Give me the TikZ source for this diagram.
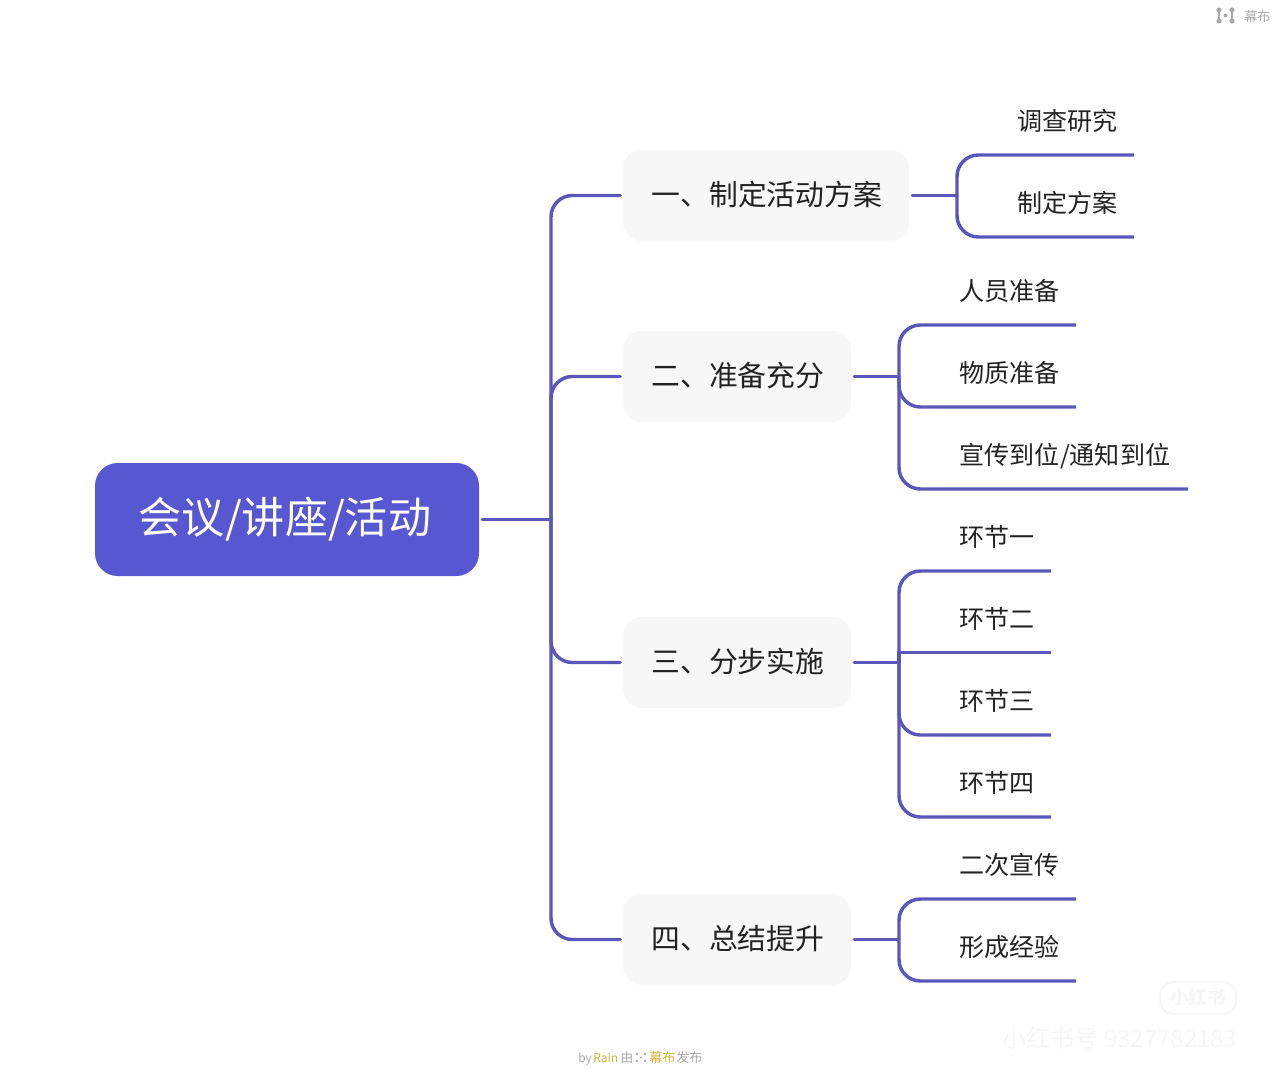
\documentclass[tikz,border=0pt]{standalone}
\usepackage{fontspec}
\setmainfont{Noto Sans CJK SC}
\definecolor{conn}{HTML}{5B57BA}
\definecolor{rootfill}{HTML}{5757D1}
\definecolor{boxfill}{HTML}{F7F7F7}
\definecolor{ink}{HTML}{222222}
\definecolor{markgray}{HTML}{A8A8A8}
\definecolor{gold}{HTML}{D2B23C}
\definecolor{faint}{HTML}{F6F6F6}
\newcommand{\liftup}[1]{\raisebox{1pt}[\height][\depth]{\hspace{1.2pt}#1}}
\tikzset{
  conline/.style={draw=conn,line width=2.6pt,line cap=round,rounded corners=16pt},
  underline/.style={draw=conn,line width=2.6pt,line cap=butt,rounded corners=16pt},
  rootbox/.style={fill=rootfill,text=white,rounded corners=17pt,minimum width=288pt,minimum height=84.75pt,inner sep=0pt,font=\fontsize{32.3}{38}\selectfont},
  topicbox/.style={fill=boxfill,text=ink,rounded corners=14pt,minimum height=68.25pt,inner sep=0pt,font=\fontsize{21.6}{26}\selectfont},
  leaf/.style={text=ink,anchor=west,inner sep=0pt,font=\fontsize{18.8}{23}\selectfont},
  wm/.style={inner sep=0pt,anchor=base west,font=\fontsize{9.75}{12}\selectfont},
  wmlatin/.style={inner sep=0pt,anchor=base west,font=\fontsize{9}{12}\selectfont},
}
\begin{document}
\begin{tikzpicture}[x=0.75pt,y=-0.75pt]
\useasboundingbox (0,0) rectangle (1280,1080);
% root and topics
\node[rootbox] (root) at (287,519.5) {\hspace{-3pt}会议/讲座/活动};
\node[topicbox,minimum width=214.5pt] (t1) at (766,195.5) {\liftup{一、制定活动方案}};
\node[topicbox,minimum width=171pt] (t2) at (737,376.5) {\liftup{二、准备充分}};
\node[topicbox,minimum width=171pt] (t3) at (737,662.5) {\liftup{三、分步实施}};
\node[topicbox,minimum width=171pt] (t4) at (737,939.5) {\liftup{四、总结提升}};
% leaves
\node[leaf] (a1) at (1017,121) {调查研究};
\node[leaf] (a2) at (1017,203) {制定方案};
\node[leaf] (b1) at (959.5,291) {人员准备};
\node[leaf] (b2) at (959.5,373) {物质准备};
\node[leaf] (b3) at (959.5,456.5) {宣传到位/通知到位};
\node[leaf] (c1) at (959.5,537) {环节一};
\node[leaf] (c2) at (959.5,619) {环节二};
\node[leaf] (c3) at (959.5,701) {环节三};
\node[leaf] (c4) at (959.5,783) {环节四};
\node[leaf] (d1) at (959.5,865) {二次宣传};
\node[leaf] (d2) at (959.5,947) {形成经验};
% free ends of the underlines
\coordinate (a1e) at (1134,155);
\coordinate (a2e) at (1134,237);
\coordinate (b1e) at (1076,325);
\coordinate (b2e) at (1076,407);
\coordinate (b3e) at (1188,489);
\coordinate (c1e) at (1051,571);
\coordinate (c2s) at (899,652.6);
\coordinate (c2e) at (1051,652.6);
\coordinate (c3e) at (1051,735);
\coordinate (c4e) at (1051,817);
\coordinate (d1e) at (1076,899);
\coordinate (d2e) at (1076,981);
% trunk
\coordinate (trunk) at (551,519.5);
\coordinate (ga) at (957,195.5);
\coordinate (gb) at (899,376.5);
\coordinate (gc) at (899,662.5);
\coordinate (gd) at (899,939.5);
\draw[conline] ([xshift=2.25pt]root.east) -- (trunk);
\draw[conline] ([xshift=-2pt]t1.west) -| (trunk);
\draw[conline] ([xshift=-2pt]t2.west) -| (trunk);
\draw[conline] ([xshift=-2pt]t3.west) -| (trunk);
\draw[conline] ([xshift=-2pt]t4.west) -| (trunk);
% groups
\draw[conline] ([xshift=2.25pt]t1.east) -- (ga);
\draw[underline] (ga) |- (a1e);
\draw[underline] (ga) |- (a2e);
\draw[conline] ([xshift=2.25pt]t2.east) -- (gb);
\draw[underline] (gb) |- (b1e);
\draw[underline] (gb) |- (b2e);
\draw[underline] (gb) |- (b3e);
\draw[conline] ([xshift=2.25pt]t3.east) -- (gc);
\draw[underline] (gc) |- (c1e);
\draw[underline,sharp corners] (gc) -- (c2s) -- (c2e);
\draw[underline] (gc) |- (c3e);
\draw[underline] (gc) |- (c4e);
\draw[conline] ([xshift=2.25pt]t4.east) -- (gd);
\draw[underline] (gd) |- (d1e);
\draw[underline] (gd) |- (d2e);
% top-right logo
\fill[markgray] (1219,10) circle (2.6) (1232,10) circle (2.6) (1219,21) circle (2.6) (1232,21) circle (2.6) (1225.5,15.5) circle (2);
\draw[markgray,line width=0.9pt] (1219,10) -- (1219,21) (1232,10) -- (1232,21);
\node[wm,text=markgray] (mbtop) at (1244,22) {幕布};
% footer
\node[wmlatin,text=markgray] (f1) at (578,1062) {by};
\node[wmlatin,text=gold] (f2) at (593,1062) {Rain};
\node[wm,text=markgray] (f3) at (620,1062) {由};
\fill[markgray] (637,1054) circle (1.3) (645,1054) circle (1.3) (637,1061) circle (1.3) (645,1061) circle (1.3) (641,1057.5) circle (1.1);
\node[wm,text=gold] (f4) at (649,1062) {幕布};
\node[wm,text=markgray] (f5) at (676,1062) {发布};
% faint watermark
\draw[faint,line width=1.5pt,rounded corners=10pt,fill=white] (1160,982) rectangle (1236,1014);
\node[inner sep=0pt,text=faint,font=\bfseries\fontsize{14}{16}\selectfont] (wm1) at (1198,997) {小红书};
\node[inner sep=0pt,text=faint,font=\fontsize{18}{22}\selectfont] (wm2) at (1120,1038) {小红书号 9327782183};
\end{tikzpicture}
\end{document}
